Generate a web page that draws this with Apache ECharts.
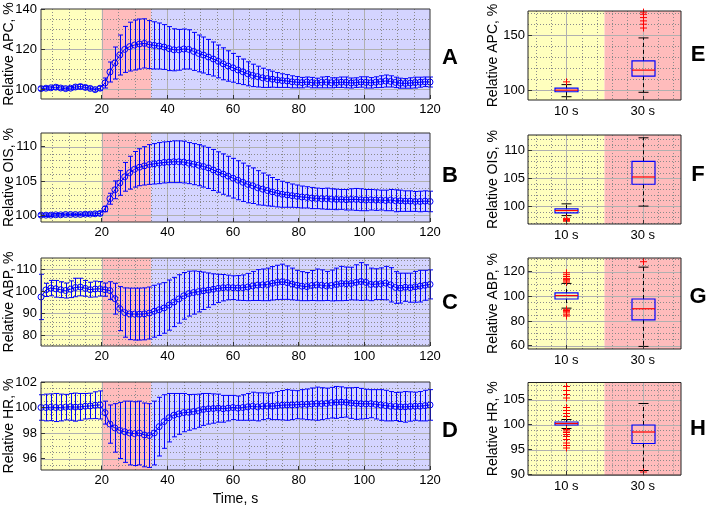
<!DOCTYPE html>
<html><head><meta charset="utf-8">
<script src="https://cdn.jsdelivr.net/npm/echarts@6/dist/echarts.min.js"></script>
<style>html,body{margin:0;padding:0;background:#fff}#c{width:709px;height:508px}</style>
</head><body><div id="c"></div>
<script>
// ---------- DATA ----------
const time = [1.5,3,4.5,6,7.5,9,10.5,12,13.5,15,16.5,18,19.5,21,22.5,24,25.5,27,28.5,30,31.5,33,34.5,36,37.5,39,40.5,42,43.5,45,46.5,48,49.5,51,52.5,54,55.5,57,58.5,60,61.5,63,64.5,66,67.5,69,70.5,72,73.5,75,76.5,78,79.5,81,82.5,84,85.5,87,88.5,90,91.5,93,94.5,96,97.5,99,100.5,102,103.5,105,106.5,108,109.5,111,112.5,114,115.5,117,118.5,120];

const apcMean = [100.2,100.4,100.6,100.9,100.5,100.2,100.4,101.0,101.2,100.8,100.3,99.7,100.4,
103.0,108.5,113.0,117.0,119.8,121.2,122.0,122.5,122.8,122.2,121.8,121.5,121.0,120.2,119.6,119.6,120.0,119.8,118.8,117.8,117.0,116.0,115.0,113.8,112.6,111.5,110.6,109.5,108.6,107.6,106.8,106.2,105.6,105.2,104.9,104.5,104.2,104.0,103.6,103.4,103.2,
103.5,103.2,103.0,103.3,103.4,103.1,103.2,103.4,103.3,103.0,103.2,103.5,103.3,103.1,103.4,103.7,104.0,103.8,103.3,102.9,102.8,103.0,103.2,103.4,103.6,103.5];
const apcErr = [0.9,0.8,0.8,1.0,0.9,0.8,0.8,1.0,1.1,0.9,0.8,0.8,1.0,
2.5,5.0,8.0,10.0,11.5,12.2,12.5,12.5,12.3,12.0,11.8,11.5,11.2,11.0,10.5,10.2,10.0,9.8,9.5,9.2,9.0,8.8,8.5,8.2,8.0,7.6,7.2,6.8,6.4,6.0,5.6,5.2,4.8,4.4,4.0,3.7,3.4,3.2,3.0,2.8,2.6,
2.5,2.6,2.4,2.7,2.8,2.5,2.4,2.6,2.7,2.5,2.4,2.6,2.8,2.6,2.7,2.9,3.0,2.8,2.6,2.5,2.4,2.6,2.7,2.5,2.4,2.5];

const oisMean = [100.0,100.0,100.0,100.05,100.05,100.1,100.1,100.1,100.1,100.15,100.15,100.2,100.25,
100.9,102.4,103.7,104.7,105.6,106.2,106.7,107.0,107.2,107.4,107.5,107.6,107.7,107.75,107.8,107.8,107.75,107.6,107.45,107.3,107.1,106.9,106.6,106.3,106.0,105.7,105.4,105.1,104.8,104.5,104.3,104.0,103.8,103.6,103.4,103.2,103.05,102.95,102.85,102.75,102.65,
102.6,102.5,102.45,102.4,102.4,102.35,102.3,102.3,102.25,102.3,102.3,102.25,102.2,102.25,102.2,102.2,102.15,102.2,102.1,102.1,102.05,102.05,102.0,102.0,102.05,102.0];
const oisErr = [0.2,0.2,0.2,0.2,0.2,0.2,0.2,0.2,0.2,0.2,0.2,0.25,0.25,
0.4,0.8,1.3,1.8,2.1,2.4,2.6,2.7,2.8,2.9,2.95,3.0,3.0,3.0,3.05,3.05,3.05,3.0,3.0,3.0,3.0,3.0,3.0,2.95,2.95,2.9,2.9,2.85,2.8,2.7,2.6,2.5,2.35,2.25,2.1,2.0,1.9,1.8,1.7,1.65,1.6,
1.55,1.55,1.5,1.5,1.55,1.5,1.5,1.45,1.5,1.55,1.6,1.6,1.55,1.5,1.5,1.45,1.5,1.55,1.6,1.55,1.5,1.5,1.45,1.5,1.5,1.5];

const abpMean = [97.3,100.5,101.3,101.0,100.6,100.2,100.8,101.6,101.8,101.2,100.6,100.9,101.0,
100.6,100.2,96.5,92.0,90.2,89.6,89.5,89.5,89.6,90.0,90.8,91.5,92.3,93.6,95.0,96.4,97.8,98.8,99.3,99.7,100.1,100.4,100.8,101.2,101.5,101.6,101.5,101.4,101.5,101.8,102.3,102.7,102.8,103.0,103.5,103.9,104.2,103.8,103.2,102.6,102.2,
102.0,102.5,102.8,102.6,102.3,102.5,103.0,103.4,103.3,103.4,103.9,104.3,103.9,103.0,103.1,103.3,103.6,102.8,101.6,101.3,101.7,101.5,101.9,102.2,102.6,103.0];
const abpErr = [10.3,3.0,3.5,3.8,3.6,3.4,3.8,4.2,4.0,3.6,3.4,3.6,3.3,
3.0,4.0,7.0,10.0,11.2,11.7,11.8,11.8,11.8,11.8,11.8,11.7,11.5,11.4,11.2,11.0,10.6,10.2,9.8,9.2,8.5,7.8,7.0,6.4,6.0,5.6,5.4,5.6,5.8,6.2,6.6,7.0,7.2,7.4,7.6,7.8,8.0,7.6,7.2,6.8,6.6,
6.4,6.8,7.2,7.0,6.6,7.0,7.4,7.8,7.6,7.4,8.0,8.6,8.0,7.4,7.0,7.2,7.6,7.8,7.2,6.8,6.4,6.6,7.0,7.2,6.8,6.6];

const hrMean = [100.0,100.0,100.02,100.0,100.0,100.03,100.05,100.03,100.05,100.1,100.12,100.18,100.2,
99.6,98.7,98.4,98.2,98.1,98.0,97.95,98.0,97.85,97.8,98.0,98.5,98.9,99.2,99.4,99.5,99.6,99.62,99.68,99.75,99.85,99.9,99.92,99.95,99.9,99.95,100.0,99.95,100.0,100.05,100.1,100.05,100.1,100.12,100.1,100.15,100.18,100.2,100.2,100.22,100.25,
100.25,100.28,100.3,100.3,100.32,100.38,100.4,100.42,100.4,100.35,100.32,100.3,100.28,100.3,100.25,100.2,100.15,100.1,100.08,100.05,100.05,100.08,100.1,100.1,100.15,100.2];
const hrErr = [1.0,1.05,1.05,1.1,1.05,1.0,1.05,1.1,1.05,1.0,1.0,1.05,1.1,
0.9,1.5,1.9,2.2,2.4,2.5,2.5,2.5,2.5,2.5,2.5,2.3,2.1,1.9,1.7,1.6,1.5,1.4,1.35,1.3,1.25,1.2,1.15,1.1,1.05,1.0,0.95,0.95,1.0,1.05,1.1,1.1,1.05,1.0,1.05,1.1,1.15,1.2,1.15,1.1,1.15,
1.2,1.25,1.3,1.25,1.2,1.2,1.25,1.2,1.15,1.2,1.25,1.2,1.15,1.1,1.15,1.2,1.2,1.15,1.1,1.15,1.2,1.15,1.1,1.15,1.2,1.2];

// phases (s)
const phaseEdges = [1.5, 20, 35, 120];

// box plots: [min, q1, median, q3, max]
const boxCategories = ['10 s', '30 s'];
const apcBox10 = [94, 98.5, 100, 101.8, 105];
const apcBox30 = [98, 112.7, 118.2, 126.6, 147.5];
const apcOut10 = [107.5];
const apcOut30 = [156.5, 160, 163, 166, 169, 171];
const oisBox10 = [98.3, 98.8, 99.2, 99.5, 100.4];
const oisBox30 = [100, 103.9, 105.2, 108.0, 112.2];
const oisOut10 = [97.8, 97.6, 97.4, 97.3];
const oisOut30 = [];
const abpBox10 = [90.4, 97.8, 100.6, 102.7, 110.4];
const abpBox30 = [59.4, 80.9, 89.9, 97.8, 123.6];
const abpOut10 = [111.5, 112.5, 113.5, 114.5, 116, 117.5, 119, 89.5, 88.5, 87.5, 86.5, 85, 84];
const abpOut30 = [128];
const hrBox10 = [99.2, 99.9, 100.2, 100.5, 101];
const hrBox30 = [90.8, 96.2, 98.5, 99.9, 104.2];
const hrOut10 = [101.6, 102.2, 102.8, 103.4, 105.3, 106, 106.8, 107.6, 99.0, 98.7, 98.4, 98.0, 97.6, 97.0, 96.3, 95.8, 95.3];
const hrOut30 = [90.5];

// tick labels
const timeTicks = [20, 40, 60, 80, 100, 120];
const apcTicks = [100, 120, 140];
const oisTicks = [100, 105, 110];
const abpTicks = [80, 90, 100, 110];
const hrTicks = [96, 98, 100, 102];
const apcBoxTicks = [100, 150];
const oisBoxTicks = [100, 105, 110];
const abpBoxTicks = [60, 80, 100, 120];
const hrBoxTicks = [90, 95, 100, 105];

// ---------- STYLE / LAYOUT ----------
const FONT = 'Liberation Sans, Arial, Helvetica, sans-serif';
const BLUE = '#0000ff';
const BAND_COLORS = ['#ffffbe', '#ffbcbc', '#d4d4ff'];

const leftPanels = [
  {name:'Relative APC, %', mean:apcMean, err:apcErr, min:95, max:140, ticks:apcTicks, minor:5, top:9, height:90, letter:'A', ly:58},
  {name:'Relative OIS, %', mean:oisMean, err:oisErr, min:99, max:112, ticks:oisTicks, minor:1, top:133, height:89, letter:'B', ly:176},
  {name:'Relative ABP, %', mean:abpMean, err:abpErr, min:75, max:115, ticks:abpTicks, minor:2, top:258, height:88, letter:'C', ly:303},
  {name:'Relative HR, %', mean:hrMean, err:hrErr, min:95.1, max:102, ticks:hrTicks, minor:0.5, top:382, height:88, letter:'D', ly:431}
];
const rightPanels = [
  {name:'Relative APC, %', b10:apcBox10, b30:apcBox30, o10:apcOut10, o30:apcOut30, min:91, max:172, ticks:apcBoxTicks, minor:10, top:11, height:89, letter:'E', ly:55},
  {name:'Relative OIS, %', b10:oisBox10, b30:oisBox30, o10:oisOut10, o30:oisOut30, min:96.8, max:112.7, ticks:oisBoxTicks, minor:1, top:135, height:89, letter:'F', ly:175},
  {name:'Relative ABP, %', b10:abpBox10, b30:abpBox30, o10:abpOut10, o30:abpOut30, min:57.3, max:131, ticks:abpBoxTicks, minor:5, top:258, height:91, letter:'G', ly:297},
  {name:'Relative HR, %', b10:hrBox10, b30:hrBox30, o10:hrOut10, o30:hrOut30, min:89.9, max:108.4, ticks:hrBoxTicks, minor:1, top:382.5, height:92.5, letter:'H', ly:429}
];

// ---------- RENDERERS ----------
function bandItem(params, api) {
  const p0 = api.coord([api.value(0), api.value(2)]);
  const p1 = api.coord([api.value(1), api.value(3)]);
  return {type:'rect', silent:true,
    shape:{x:p0[0], y:p1[1], width:p1[0]-p0[0], height:p0[1]-p1[1]},
    style:{fill:BAND_COLORS[api.value(4)]}};
}
function gridLineItem(params, api) {
  const cs = params.coordSys;
  const p = api.coord([api.value(0), api.value(1)]);
  const vertical = api.value(2) === 0;
  const major = api.value(3) === 1;
  let shape;
  if (vertical) { const x = Math.round(p[0]) + 0.5; shape = {x1:x, y1:cs.y, x2:x, y2:cs.y + cs.height}; }
  else { const y = Math.round(p[1]) + 0.5; shape = {x1:cs.x, y1:y, x2:cs.x + cs.width, y2:y}; }
  return {type:'line', silent:true, shape,
    style: major ? {stroke:'#b0b0b0', lineWidth:1} : {stroke:'#8a8a8a', lineWidth:1, lineDash:[1,2]}};
}
function errItem(params, api) {
  const t = api.value(0);
  const lo = api.coord([t, api.value(1)]), hi = api.coord([t, api.value(2)]);
  const x = Math.round(lo[0]) + 0.5, cw = 2.5;
  const st = {stroke:BLUE, lineWidth:1};
  return {type:'group', children:[
    {type:'line', shape:{x1:x, y1:lo[1], x2:x, y2:hi[1]}, style:st},
    {type:'line', shape:{x1:x-cw, y1:lo[1], x2:x+cw, y2:lo[1]}, style:st},
    {type:'line', shape:{x1:x-cw, y1:hi[1], x2:x+cw, y2:hi[1]}, style:st}
  ]};
}
function boxItem(params, api) {
  const xv = api.value(0);
  const y = i => api.coord([xv, api.value(i)])[1];
  const cx = Math.round(api.coord([xv, api.value(1)])[0]) + 0.5;
  const hw = 11.5, cw = 5;
  const yMin = y(1), yQ1 = y(2), yMed = y(3), yQ3 = y(4), yMax = y(5);
  const dash = {stroke:'#000', lineWidth:1, lineDash:[4,3]};
  const solid = {stroke:'#000', lineWidth:1};
  return {type:'group', children:[
    {type:'line', shape:{x1:cx, y1:yQ3, x2:cx, y2:yMax}, style:dash},
    {type:'line', shape:{x1:cx, y1:yQ1, x2:cx, y2:yMin}, style:dash},
    {type:'line', shape:{x1:cx-cw, y1:yMax, x2:cx+cw, y2:yMax}, style:solid},
    {type:'line', shape:{x1:cx-cw, y1:yMin, x2:cx+cw, y2:yMin}, style:solid},
    {type:'rect', shape:{x:cx-hw, y:yQ3, width:2*hw, height:yQ1-yQ3}, style:{fill:'none', stroke:BLUE, lineWidth:1.2}},
    {type:'line', shape:{x1:cx-hw, y1:yMed, x2:cx+hw, y2:yMed}, style:{stroke:'#ff0000', lineWidth:1.2}}
  ]};
}
function plusItem(params, api) {
  const p = api.coord([api.value(0), api.value(1)]);
  const s = 3.5, st = {stroke:'#ff0000', lineWidth:1};
  const x = Math.round(p[0]) + 0.5;
  return {type:'group', children:[
    {type:'line', shape:{x1:x-s, y1:p[1], x2:x+s, y2:p[1]}, style:st},
    {type:'line', shape:{x1:x, y1:p[1]-s, x2:x, y2:p[1]+s}, style:st}
  ]};
}
function gridLines(xMin, yMin, xMajor, xMinor, yMajor, yMinor) {
  const out = [];
  xMinor.forEach(v => out.push([v, yMin, 0, 0]));
  xMajor.forEach(v => out.push([v, yMin, 0, 1]));
  yMinor.forEach(v => out.push([xMin, v, 1, 0]));
  yMajor.forEach(v => out.push([xMin, v, 1, 1]));
  return out;
}
function yLines(min, max, step, majors) {
  const maj = [], mnr = [];
  const start = Math.ceil(min / step - 1e-9);
  for (let k = start; k * step <= max + 1e-9; k++) {
    const v = Math.round(k * step * 1000) / 1000;
    if (Math.abs(v - min) < 1e-6 || Math.abs(v - max) < 1e-6) continue;
    if (majors.some(m => Math.abs(m - v) < 1e-6)) maj.push(v); else mnr.push(v);
  }
  return [maj, mnr];
}

// ---------- OPTION ----------
const grids = [], xAxes = [], yAxes = [], series = [], graphics = [];
const labelStyle = {color:'#000', fontSize:13, fontFamily:FONT};

leftPanels.forEach((p, i) => {
  grids.push({left:41, width:389, top:p.top, height:p.height, show:true, borderColor:'#333', borderWidth:1, backgroundColor:'transparent', z:10, containLabel:false, outerBoundsMode:'none'});
  xAxes.push({gridIndex:i, type:'value', min:phaseEdges[0], max:phaseEdges[3],
    splitLine:{show:false}, axisLine:{show:false},
    axisTick:{show:true, inside:true, length:4, customValues:timeTicks, lineStyle:{color:'#333'}},
    axisLabel:Object.assign({customValues:timeTicks, margin:4}, labelStyle),
    name: i === 3 ? 'Time, s' : '', nameLocation:'middle', nameGap:22,
    nameTextStyle:{color:'#000', fontSize:14, fontFamily:FONT}, z:11});
  yAxes.push({gridIndex:i, type:'value', min:p.min, max:p.max,
    splitLine:{show:false}, axisLine:{show:false},
    axisTick:{show:true, inside:true, length:4, customValues:p.ticks, lineStyle:{color:'#333'}},
    axisLabel:Object.assign({customValues:p.ticks, margin:4}, labelStyle),
    name:p.name, nameLocation:'middle', nameGap:25, nameMoveOverlap:false,
    nameTextStyle:{color:'#000', fontSize:14, fontFamily:FONT}, z:11});
  series.push({type:'custom', xAxisIndex:i, yAxisIndex:i, z:1, silent:true, renderItem:bandItem,
    data:[[phaseEdges[0], phaseEdges[1], p.min, p.max, 0], [phaseEdges[1], phaseEdges[2], p.min, p.max, 1], [phaseEdges[2], phaseEdges[3], p.min, p.max, 2]]});
  const xMajor = [20, 40, 60, 80, 100];
  const xMinor = [];
  for (let v = 5; v < 120; v += 5) if (v % 20 !== 0) xMinor.push(v);
  const [ym, yn] = yLines(p.min, p.max, p.minor, p.ticks);
  series.push({type:'custom', xAxisIndex:i, yAxisIndex:i, z:2, silent:true, renderItem:gridLineItem,
    data:gridLines(phaseEdges[0], p.min, xMajor, xMinor, ym, yn)});
  series.push({type:'custom', xAxisIndex:i, yAxisIndex:i, z:3, silent:true, renderItem:errItem,
    data:time.map((t, k) => [t, p.mean[k] - p.err[k], p.mean[k] + p.err[k]])});
  series.push({type:'line', xAxisIndex:i, yAxisIndex:i, z:4, silent:true,
    data:time.map((t, k) => [t, p.mean[k]]),
    symbol:'circle', symbolSize:6, showAllSymbol:true,
    itemStyle:{color:'rgba(0,0,0,0)', borderColor:BLUE, borderWidth:1},
    lineStyle:{color:BLUE, width:1}});
  graphics.push({type:'text', x:450, y:p.ly, style:{text:p.letter, font:'bold 22px ' + FONT, fill:'#000', textAlign:'center', textVerticalAlign:'middle', align:'center', verticalAlign:'middle'}});
});

rightPanels.forEach((p, j) => {
  const i = j + 4;
  grids.push({left:528, width:153, top:p.top, height:p.height, show:true, borderColor:'#222', borderWidth:1, backgroundColor:'transparent', z:10, containLabel:false, outerBoundsMode:'none'});
  xAxes.push({gridIndex:i, type:'value', min:0.5, max:2.5,
    splitLine:{show:false}, axisLine:{show:false},
    axisTick:{show:true, inside:true, length:4, customValues:[1, 2], lineStyle:{color:'#333'}},
    axisLabel:Object.assign({customValues:[1, 2], margin:5, formatter:v => boxCategories[Math.round(v) - 1] || ''}, labelStyle), z:11});
  yAxes.push({gridIndex:i, type:'value', min:p.min, max:p.max,
    splitLine:{show:false}, axisLine:{show:false},
    axisTick:{show:true, inside:true, length:4, customValues:p.ticks, lineStyle:{color:'#333'}},
    axisLabel:Object.assign({customValues:p.ticks, margin:3}, labelStyle),
    name:p.name, nameLocation:'middle', nameGap:28, nameMoveOverlap:false,
    nameTextStyle:{color:'#000', fontSize:14, fontFamily:FONT}, z:11});
  series.push({type:'custom', xAxisIndex:i, yAxisIndex:i, z:1, silent:true, renderItem:bandItem,
    data:[[0.5, 1.5, p.min, p.max, 0], [1.5, 2.5, p.min, p.max, 1]]});
  const [ym, yn] = yLines(p.min, p.max, p.minor, p.ticks);
  series.push({type:'custom', xAxisIndex:i, yAxisIndex:i, z:2, silent:true, renderItem:gridLineItem,
    data:gridLines(0.5, p.min, [1, 2], [0.6, 0.8, 1.2, 1.4, 1.6, 1.8, 2.2, 2.4], ym, yn)});
  series.push({type:'custom', xAxisIndex:i, yAxisIndex:i, z:3, silent:true, renderItem:boxItem,
    data:[[1].concat(p.b10), [2].concat(p.b30)]});
  series.push({type:'custom', xAxisIndex:i, yAxisIndex:i, z:4, silent:true, renderItem:plusItem,
    data:p.o10.map(v => [1, v]).concat(p.o30.map(v => [2, v]))});
  graphics.push({type:'text', x:698, y:p.ly, style:{text:p.letter, font:'bold 22px ' + FONT, fill:'#000', textAlign:'center', textVerticalAlign:'middle', align:'center', verticalAlign:'middle'}});
});

const chart = echarts.init(document.getElementById('c'), null, {renderer:'canvas', width:709, height:508});
chart.setOption({
  animation:false,
  backgroundColor:'#ffffff',
  textStyle:{fontFamily:FONT},
  grid:grids, xAxis:xAxes, yAxis:yAxes, series:series, graphic:graphics
});
</script>
</body></html>
